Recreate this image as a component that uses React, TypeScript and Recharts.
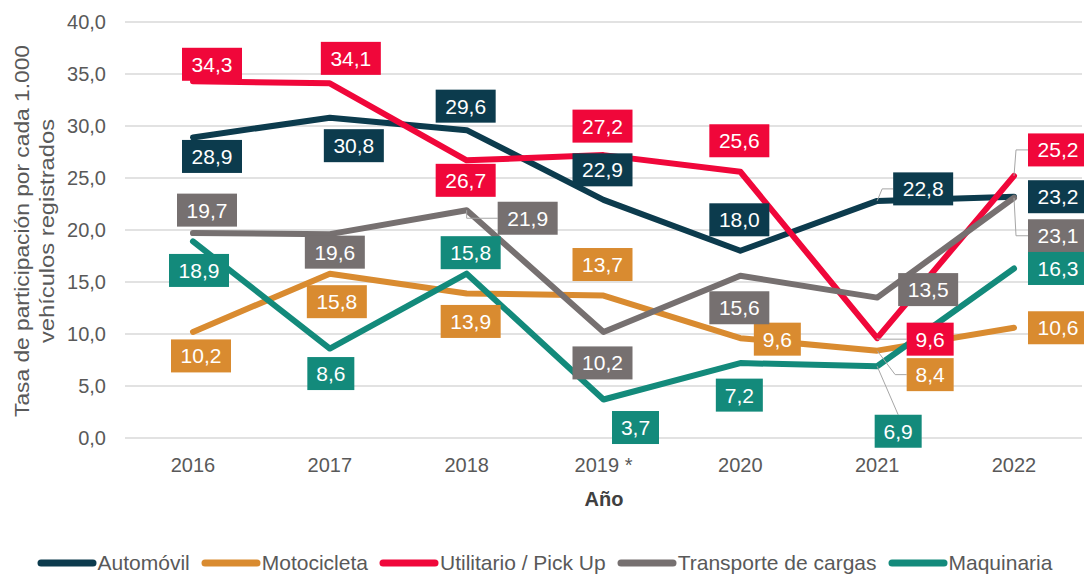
import React from "react";
import {
  LineChart,
  Line,
  XAxis,
  YAxis,
  CartesianGrid,
  Legend,
  LabelList,
} from "recharts";

const years = ["2016", "2017", "2018", "2019 *", "2020", "2021", "2022"];
const yTicks = [0, 5, 10, 15, 20, 25, 30, 35, 40];

const automovil = [28.9, 30.8, 29.6, 22.9, 18.0, 22.8, 23.2];
const motocicleta = [10.2, 15.8, 13.9, 13.7, 9.6, 8.4, 10.6];
const utilitario = [34.3, 34.1, 26.7, 27.2, 25.6, 9.6, 25.2];
const transporte = [19.7, 19.6, 21.9, 10.2, 15.6, 13.5, 23.1];
const maquinaria = [18.9, 8.6, 15.8, 3.7, 7.2, 6.9, 16.3];

// where each data label box sits relative to its point, [dx, dy]
const autoPos = [[19, 19], [24, 28], [-1, -24], [-1, -30], [-1, -31], [46, -12], [44, 0]];
const motoPos = [[8, 24], [7, 28], [4, 28], [-1, -31], [37, 1], [53, 24], [44, 0]];
const utilPos = [[19, -17], [21, -25], [-1, 20], [-1, -29], [-1, -31], [53, 1], [44, -26]];
const transPos = [[14, -23], [5, 18], [61, 8], [-1, 31], [-1, 32], [51, -8], [44, 38]];
const maqPos = [[6, 29], [1, 25], [4, -21], [32, 28], [-1, 32], [21, 65], [44, 0]];

// leader lines: number = elbow offset to the side, "top" = straight to box top
const autoLead = [null, null, null, null, null, 5, null];
const motoLead = [null, null, null, null, null, 18, null];
const utilLead = [null, null, null, null, null, 0, 2];
const transLead = [null, null, 0, null, null, null, 2];
const maqLead = [null, null, null, null, null, "top", null];

const series = [
  { key: "auto", name: "Automóvil", color: "#0c3b4d", values: automovil, pos: autoPos, lead: autoLead },
  { key: "moto", name: "Motocicleta", color: "#d98b30", values: motocicleta, pos: motoPos, lead: motoLead },
  { key: "util", name: "Utilitario / Pick Up", color: "#f0073a", values: utilitario, pos: utilPos, lead: utilLead },
  { key: "trans", name: "Transporte de cargas", color: "#767070", values: transporte, pos: transPos, lead: transLead },
  { key: "maq", name: "Maquinaria", color: "#138a7b", values: maquinaria, pos: maqPos, lead: maqLead },
];

const data = years.map((year, i) => {
  const row: Record<string, string | number> = { year };
  series.forEach((s) => {
    row[s.key] = s.values[i];
  });
  return row;
});

const fmt = (v: number) => v.toFixed(1).replace(".", ",");
const font = "'Liberation Sans', Arial, sans-serif";

const makeLabel = (s: (typeof series)[number]) => (props: any) => {
  const { x, y, value, index } = props;
  if (x == null || y == null) return null;
  const text = fmt(Number(value));
  const w = text.length === 3 ? 47 : 60;
  const h = 33;
  const [dx, dy] = s.pos[index];
  const cx = x + dx;
  const cy = y + dy;
  const left = cx - w / 2;
  const top = cy - h / 2;
  const lead = s.lead[index];
  let leader = null;
  if (lead === "top") {
    leader = <line x1={x} y1={y} x2={cx} y2={top} stroke="#a6a6a6" strokeWidth={1} />;
  } else if (typeof lead === "number") {
    leader = (
      <polyline
        points={`${x},${y} ${x + lead},${cy} ${left},${cy}`}
        fill="none"
        stroke="#a6a6a6"
        strokeWidth={1}
      />
    );
  }
  return (
    <g key={`${s.key}-${index}`}>
      {leader}
      <rect x={left} y={top} width={w} height={h} fill={s.color} />
      <text
        x={cx}
        y={cy + 7.5}
        textAnchor="middle"
        fill="#ffffff"
        fontSize={21}
        fontFamily={font}
      >
        {text}
      </text>
    </g>
  );
};

const LegendContent = () => (
  <div
    style={{
      display: "flex",
      justifyContent: "center",
      alignItems: "center",
      height: 30,
      fontFamily: font,
      fontSize: 21,
      color: "#595959",
      paddingTop: 8,
      paddingLeft: 18,
      boxSizing: "border-box",
    }}
  >
    {series.map((s) => (
      <div key={s.key} style={{ display: "flex", alignItems: "center", marginRight: 11 }}>
        <svg width={60} height={10}>
          <line x1={4} y1={5} x2={56} y2={5} stroke={s.color} strokeWidth={7} strokeLinecap="round" />
        </svg>
        <span style={{ marginLeft: 1 }}>{s.name}</span>
      </div>
    ))}
  </div>
);

const YTitle = () => (
  <text
    transform="translate(22, 231) rotate(-90)"
    textAnchor="middle"
    fill="#595959"
    fontSize={20}
    fontFamily={font}
  >
    <tspan x={0} y={7} textLength={372} lengthAdjust="spacingAndGlyphs">
      Tasa de participación por cada 1.000
    </tspan>
    <tspan x={0} y={32} textLength={224} lengthAdjust="spacingAndGlyphs">
      vehículos registrados
    </tspan>
  </text>
);

const XTitle = () => (
  <text x={604} y={506} textAnchor="middle" fill="#404040" fontSize={20} fontWeight={600} fontFamily={font}>
    Año
  </text>
);

export default function App() {
  return (
    <div style={{ position: "absolute", left: 0, top: 0, background: "#ffffff" }}>
      <LineChart
        width={1084}
        height={574}
        data={data}
        margin={{ top: 22, right: 2, bottom: 0, left: 0 }}
      >
        <CartesianGrid vertical={false} stroke="#d9d9d9" strokeWidth={1.3} />
        <XAxis
          dataKey="year"
          height={106}
          padding={{ left: 68, right: 68 }}
          tickLine={false}
          axisLine={false}
          tickSize={0}
          tickMargin={20}
          tick={{ fill: "#595959", fontSize: 20, fontFamily: font }}
          interval={0}
          label={<XTitle />}
        />
        <YAxis
          domain={[0, 40]}
          ticks={yTicks}
          width={125}
          tickLine={false}
          axisLine={false}
          tickSize={0}
          tickMargin={19}
          tickFormatter={(v) => fmt(Number(v))}
          tick={{ fill: "#595959", fontSize: 20, fontFamily: font }}
          label={<YTitle />}
        />
        <Legend verticalAlign="bottom" height={30} content={<LegendContent />} />
        {series.map((s) => (
          <Line
            key={s.key}
            dataKey={s.key}
            name={s.name}
            stroke={s.color}
            strokeWidth={6}
            strokeLinejoin="round"
            strokeLinecap="round"
            dot={false}
            activeDot={false}
            isAnimationActive={false}
          />
        ))}
        {series.map((s) => (
          <Line
            key={`${s.key}-labels`}
            dataKey={s.key}
            stroke="none"
            dot={false}
            activeDot={false}
            legendType="none"
            isAnimationActive={false}
          >
            <LabelList dataKey={s.key} content={makeLabel(s)} />
          </Line>
        ))}
      </LineChart>
    </div>
  );
}
